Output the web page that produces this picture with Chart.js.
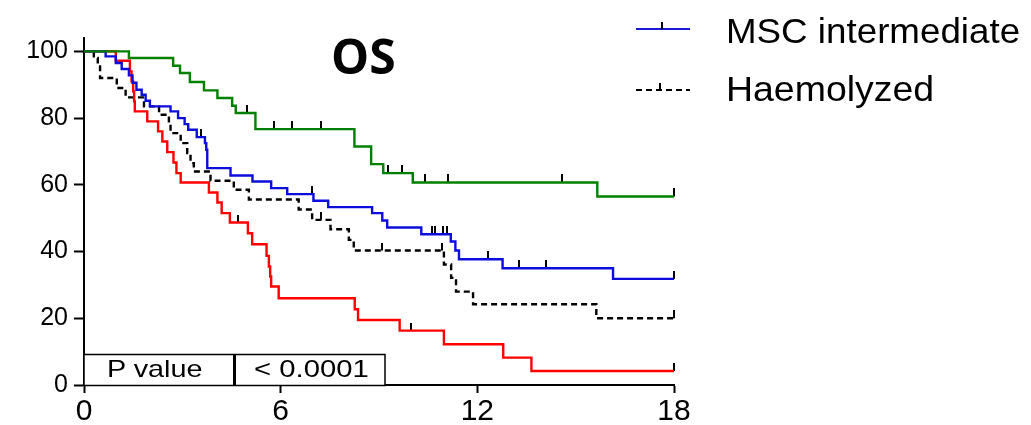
<!DOCTYPE html>
<html><head><meta charset="utf-8">
<script src="https://cdn.jsdelivr.net/npm/chart.js@4.4.1/dist/chart.umd.min.js"></script>
<style>
html,body{margin:0;padding:0;background:#fff;}
#wrap{position:relative;width:1031px;height:425px;overflow:hidden;background:#fff;}
#c{position:absolute;left:0;top:0;}
.t{position:absolute;white-space:nowrap;font-family:"Liberation Sans",Arial,sans-serif;color:#000;transform-origin:0 0;line-height:1;}
#title{font-family:"Open Sans",sans-serif;font-weight:700;font-size:48px;left:331px;top:32px;}
#leg1{font-size:35px;left:726px;top:13px;transform:scaleX(1.05);}
#leg2{font-size:35px;left:726px;top:71px;transform:scaleX(1.07);}
#p1{font-size:24px;left:107px;top:357px;transform:scaleX(1.2);}
#p2{font-size:24px;left:254px;top:357px;transform:scaleX(1.22);}
</style></head><body>
<div id="wrap">
<canvas id="c" width="1031" height="425"></canvas>
<div class="t" id="title">OS</div>
<div class="t" id="leg1">MSC intermediate</div>
<div class="t" id="leg2">Haemolyzed</div>
<div class="t" id="p1">P value</div>
<div class="t" id="p2">&lt; 0.0001</div>
</div>
<script>
// ---- data ----
const xTickValues = [0, 6, 12, 18];
const yTickValues = [0, 20, 40, 60, 80, 100];

const greenLabel = 'Group (green)';
const greenTimes = [0, 1.37, 2.72, 2.93, 3.23, 3.66, 4.07, 4.52, 4.63, 5.23, 8.25, 8.76, 9.13, 10.03, 15.66, 18];
const greenSurv  = [100, 98.0, 95.7, 93.5, 90.8, 88.3, 86.0, 83.7, 81.5, 76.7, 71.5, 66.2, 63.5, 60.7, 56.5, 56.5];
const greenCensor = [4.98, 5.79, 6.35, 7.24, 9.28, 9.71, 10.05, 10.4, 11.11, 14.58, 18];

const blueLabel = 'MSC intermediate';
const blueTimes = [0, 0.66, 0.97, 1.15, 1.37, 1.48, 1.6, 1.76, 1.88, 2.01, 2.64, 2.87, 3.07, 3.18, 3.44, 3.69, 3.73, 3.76, 4.47, 5.14, 5.71, 6.2, 7.0, 7.45, 8.79, 9.1, 9.25, 10.29, 11.19, 11.33, 11.44, 12.77, 16.14, 18];
const blueSurv  = [100, 98.5, 96.5, 94.7, 92.8, 90.6, 88.5, 87.0, 85.2, 83.5, 82.0, 80.0, 78.2, 76.5, 74.3, 72.5, 70.5, 65.0, 62.8, 61.0, 59.0, 57.2, 55.2, 53.3, 51.5, 49.3, 47.2, 45.2, 43.0, 40.3, 37.7, 35.0, 31.8, 31.8];
const blueCensor = [3.56, 6.96, 10.62, 10.72, 10.96, 11.08, 12.33, 13.26, 14.1, 18];

const redLabel = 'Group (red)';
const redTimes = [0, 0.97, 1.40, 1.45, 1.50, 1.53, 1.55, 1.93, 2.26, 2.39, 2.54, 2.73, 2.82, 2.95, 3.81, 4.07, 4.2, 4.45, 5.0, 5.13, 5.57, 5.64, 5.68, 5.71, 5.94, 8.26, 8.36, 9.63, 10.98, 12.79, 13.65, 18];
const redSurv  = [100, 97.2, 94, 91, 88, 85, 82, 79, 76, 73, 69.8, 66.7, 63.5, 60.7, 57.7, 54.7, 51.5, 48.7, 45.5, 42.2, 38.7, 35.5, 32.5, 29.5, 26.0, 22.7, 19.5, 16.3, 12.2, 8.2, 4.2, 4.2];
const redCensor = [4.71, 9.99, 18];

const blackLabel = 'Haemolyzed';
const blackTimes = [0, 0.3, 0.42, 0.49, 1.0, 1.27, 1.83, 2.29, 2.59, 2.64, 2.95, 3.15, 3.25, 3.35, 3.86, 4.57, 5.03, 6.55, 6.96, 7.52, 8.08, 8.23, 10.98, 11.2, 11.35, 11.87, 15.63, 18];
const blackSurv  = [100, 98.0, 95.5, 92.0, 89.0, 86.2, 83.5, 81.0, 78.0, 75.5, 72.5, 69.5, 66.5, 64.0, 61.2, 58.5, 55.6, 52.6, 49.5, 46.7, 43.5, 40.3, 36.1, 32.1, 28.0, 24.2, 20.0, 20.0];
const blackCensor = [7.22, 9.08, 10.93, 18];

// ---- helpers ----
function pts(times, surv){ return times.map((t,i)=>({x:t, y:surv[i]})); }
function stepAt(times, surv, t){ let v = surv[0]; for(let i=0;i<times.length;i++){ if(times[i] <= t) v = surv[i]; } return v; }
function censorPts(times, surv, cens){ return cens.map(t=>({x:t, y:stepAt(times, surv, t)})); }
function tickImg(){ const c=document.createElement('canvas'); c.width=2; c.height=16; const g=c.getContext('2d'); g.fillStyle='#000'; g.fillRect(0,0,2,8); return c; }
const tick = tickImg();

function lineDs(label, times, surv, color, dash){
  return {type:'line', label, data: pts(times, surv), borderColor: color, borderWidth: 2.4, borderDash: dash||[], stepped: true, pointRadius: 0, fill: false, tension: 0};
}
function censDs(label, times, surv, cens){
  return {type:'scatter', label: label+' censored', data: censorPts(times, surv, cens), pointStyle: tick, pointRadius: 4, showLine: false, clip: false};
}

const extrasPlugin = {
  id: 'kmExtras',
  afterDraw(chart){
    const g = chart.ctx;
    g.save();
    // legend samples
    g.lineWidth = 2;
    g.strokeStyle = '#1a1ad6';
    g.beginPath(); g.moveTo(636, 29); g.lineTo(690, 29); g.stroke();
    g.fillStyle = '#000';
    g.fillRect(661, 22, 2, 7);
    g.strokeStyle = '#000';
    g.setLineDash([6,4]);
    g.beginPath(); g.moveTo(636, 90); g.lineTo(690, 90); g.stroke();
    g.setLineDash([]);
    g.fillRect(659, 83, 2, 7);
    // P value table
    g.fillStyle = '#fff';
    g.fillRect(84, 354, 301, 31);
    g.strokeStyle = '#000';
    g.lineWidth = 1.5;
    g.strokeRect(84, 354.5, 301, 31);
    g.lineWidth = 3;
    g.beginPath(); g.moveTo(234.5, 354); g.lineTo(234.5, 386); g.stroke();
    g.restore();
  }
};

new Chart(document.getElementById('c'), {
  data: {
    datasets: [
      lineDs(greenLabel, greenTimes, greenSurv, '#008000'),
      lineDs(blueLabel, blueTimes, blueSurv, '#0c0cdc'),
      lineDs(redLabel, redTimes, redSurv, '#ff0000'),
      lineDs(blackLabel, blackTimes, blackSurv, '#000000', [6,4]),
      censDs(greenLabel, greenTimes, greenSurv, greenCensor),
      censDs(blueLabel, blueTimes, blueSurv, blueCensor),
      censDs(redLabel, redTimes, redSurv, redCensor),
      censDs(blackLabel, blackTimes, blackSurv, blackCensor)
    ]
  },
  options: {
    responsive: false, animation: false, devicePixelRatio: 1,
    layout: {padding: {left: 0, right: 357, top: 38, bottom: 0}},
    plugins: {legend: {display: false}, tooltip: {enabled: false}, title: {display: false}},
    scales: {
      x: {
        type: 'linear', min: 0, max: 18,
        afterBuildTicks: s => { s.ticks = xTickValues.map(v => ({value: v})); },
        afterFit: s => { s.height = 40; },
        grid: {drawOnChartArea: false, drawTicks: true, tickLength: 8, tickWidth: 2, tickColor: '#000'},
        border: {display: true, color: '#000', width: 2},
        ticks: {font: {family: 'Liberation Sans', size: 30}, color: '#000', padding: 1, maxRotation: 0, autoSkip: false}
      },
      y: {
        type: 'linear', min: 0, max: 104,
        afterBuildTicks: s => { s.ticks = yTickValues.map(v => ({value: v})); },
        afterFit: s => { s.width = 84; },
        grid: {drawOnChartArea: false, drawTicks: true, tickLength: 10, tickWidth: 2, tickColor: '#000'},
        border: {display: true, color: '#000', width: 2},
        ticks: {font: {family: 'Liberation Sans', size: 25}, color: '#000', padding: 6, autoSkip: false}
      }
    }
  },
  plugins: [extrasPlugin]
});
</script>
</body></html>
